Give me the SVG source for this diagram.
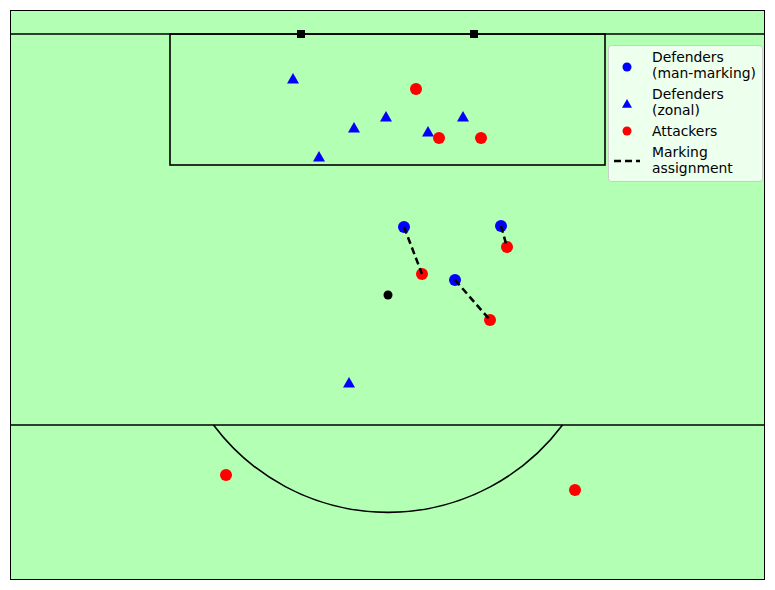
<svg xmlns="http://www.w3.org/2000/svg" width="775" height="590" viewBox="0 0 775 590">
<style>
.line{fill:none;stroke:#000;stroke-width:1.6}
.mm{fill:#0000ff}
.zn{fill:#0000ff}
.att{fill:#ff0000}
.dash{stroke:#000;stroke-width:2.5;stroke-dasharray:7,4;fill:none}
.lt{font-family:"DejaVu Sans",sans-serif;font-size:13.9px;fill:#000}
</style>
<defs>
<path id="tri" d="M0,-6 L6,4.5 L-6,4.5 Z"/>
<path id="tris" d="M0,-5 L5,3.7 L-5,3.7 Z"/>
</defs>
<rect x="0" y="0" width="775" height="590" fill="#ffffff"/>
<g id="pitch">
<rect x="10.5" y="10.5" width="754" height="569" fill="#b3ffb3" stroke="#000" stroke-width="1"/>
<line class="line" x1="10" y1="34" x2="765" y2="34"/>
<rect class="line" x="170" y="34" width="435" height="131"/>
<line class="line" x1="10" y1="425" x2="765" y2="425"/>
<path class="line" d="M213.5,425 A218,218 0 0 0 562.5,425"/>
<rect x="297" y="30" width="8" height="8" fill="#000"/>
<rect x="470" y="30" width="8" height="8" fill="#000"/>
<circle cx="388" cy="295" r="4.5" fill="#000"/>
</g>
<g id="defenders-man">
<circle class="mm" cx="404" cy="227" r="6"/>
<circle class="mm" cx="501" cy="226" r="6"/>
<circle class="mm" cx="455" cy="280" r="6"/>
</g>
<g id="defenders-zonal" class="zn">
<use href="#tri" x="293" y="79"/>
<use href="#tri" x="354" y="128"/>
<use href="#tri" x="386" y="117"/>
<use href="#tri" x="428" y="132"/>
<use href="#tri" x="463" y="117"/>
<use href="#tri" x="319" y="157"/>
<use href="#tri" x="349" y="383"/>
</g>
<g id="attackers">
<circle class="att" cx="416" cy="89" r="6"/>
<circle class="att" cx="439" cy="138" r="6"/>
<circle class="att" cx="481" cy="138" r="6"/>
<circle class="att" cx="422" cy="274" r="6"/>
<circle class="att" cx="507" cy="247" r="6"/>
<circle class="att" cx="490" cy="320" r="6"/>
<circle class="att" cx="226" cy="475" r="6"/>
<circle class="att" cx="575" cy="490" r="6"/>
</g>
<g id="connectors">
<line class="dash" x1="404" y1="227" x2="422" y2="274"/>
<line class="dash" x1="501" y1="226" x2="507" y2="247"/>
<line class="dash" x1="455" y1="280" x2="490" y2="320"/>
</g>
<g id="legend">
<rect x="608.5" y="45.5" width="154" height="136" rx="3" fill="#f0fff0" fill-opacity="0.95" stroke="#cccccc" stroke-width="1"/>
<circle class="mm" cx="627" cy="67" r="4.5"/>
<use href="#tris" x="627" y="104" class="zn"/>
<circle class="att" cx="627" cy="131" r="4.5"/>
<line class="dash" x1="614" y1="161" x2="640" y2="161" stroke-dasharray="9,5"/>
<text class="lt" x="652" y="62">Defenders</text>
<text class="lt" x="652" y="78">(man-marking)</text>
<text class="lt" x="652" y="99">Defenders</text>
<text class="lt" x="652" y="115">(zonal)</text>
<text class="lt" x="652" y="136">Attackers</text>
<text class="lt" x="652" y="157">Marking</text>
<text class="lt" x="652" y="173">assignment</text>
</g>
</svg>
